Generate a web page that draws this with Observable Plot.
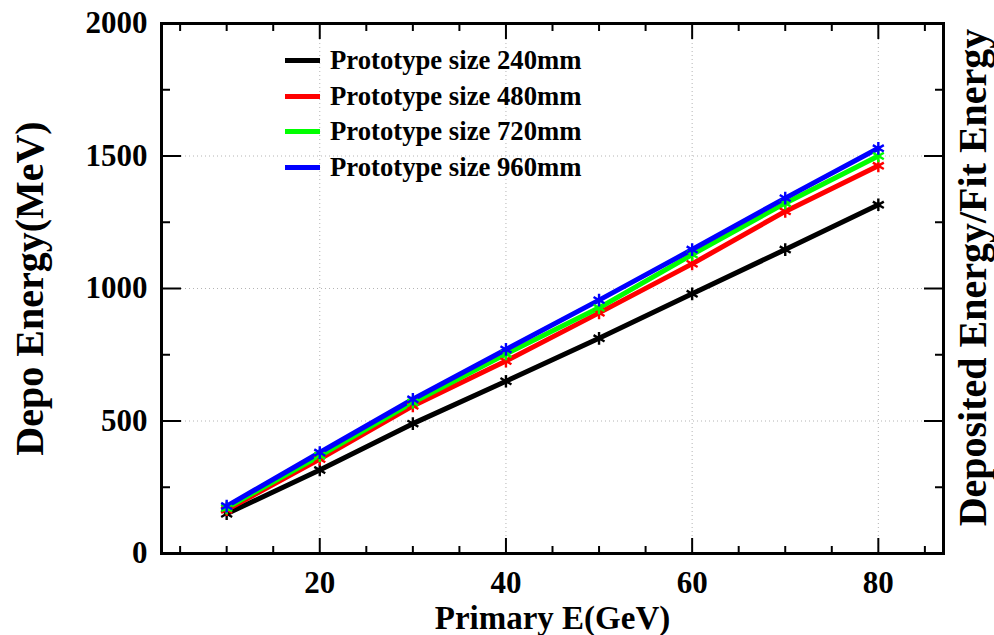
<!DOCTYPE html>
<html>
<head>
<meta charset="utf-8">
<script src="https://cdn.jsdelivr.net/npm/d3@7"></script>
<script src="https://cdn.jsdelivr.net/npm/@observablehq/plot@0.6"></script>
<style>
  html, body { margin: 0; padding: 0; background: #fff; }
  #wrap { position: relative; width: 994px; height: 635px; }
  #legend { position: absolute; left: 285px; top: 43px; font-family: "Liberation Serif", "DejaVu Serif", serif; font-weight: bold; font-size: 26.7px; color: #000; }
  .row { display: flex; align-items: center; height: 35.5px; }
  .sw { width: 35px; height: 5px; margin-right: 10px; }
</style>
</head>
<body>
<div id="wrap"><div id="legend"></div></div>
<script>
const energies = [10, 20, 30, 40, 50, 60, 70, 80];
const seriesNames = ["Prototype size 240mm", "Prototype size 480mm", "Prototype size 720mm", "Prototype size 960mm"];
const seriesColors = ["#000000", "#ff0000", "#00ff00", "#0000ff"];
const dep240 = [150, 315, 490, 650, 812, 980, 1147, 1316];
const dep480 = [165, 356, 557, 726, 908, 1093, 1291, 1463];
const dep720 = [172, 369, 570, 753, 927, 1128, 1322, 1500];
const dep960 = [179, 381, 582, 770, 956, 1147, 1341, 1529];
const xMajor = [20, 40, 60, 80];
const xMinor = [5, 10, 15, 25, 30, 35, 45, 50, 55, 65, 70, 75, 85];
const yMajor = [0, 500, 1000, 1500, 2000];
const yMinor = [250, 750, 1250, 1750];
const xTitle = "Primary E(GeV)";
const yTitle = "Depo Energy(MeV)";
const y2Title = "Deposited Energy/Fit Energy";

const allSeries = [dep240, dep480, dep720, dep960];
const data = [];
allSeries.forEach((vals, s) => vals.forEach((v, i) => data.push({series: seriesNames[s], e: energies[i], dep: v})));

const font = "Liberation Serif, DejaVu Serif, serif";
const tickCommon = {tickFormat: () => "", label: null, strokeWidth: 2};
const plain = d => String(d);

const chart = Plot.plot({
  width: 994,
  height: 635,
  marginLeft: 161,
  marginRight: 51,
  marginTop: 23,
  marginBottom: 82,
  style: {fontFamily: font, fontWeight: "bold", background: "white", overflow: "visible"},
  x: {domain: [3, 87]},
  y: {domain: [0, 2000]},
  color: {domain: seriesNames, range: seriesColors},
  marks: [
    Plot.gridX(xMajor, {stroke: "#b4b4b4", strokeOpacity: 1, strokeDasharray: "1,3", strokeWidth: 1}),
    Plot.gridY(yMajor.slice(1, -1), {stroke: "#b4b4b4", strokeOpacity: 1, strokeDasharray: "1,3", strokeWidth: 1}),
    Plot.axisX({ticks: xMajor, anchor: "bottom", tickSize: 15, dy: -15, ...tickCommon}),
    Plot.axisX({ticks: xMinor, anchor: "bottom", tickSize: 7, dy: -7, ...tickCommon}),
    Plot.axisX({ticks: xMajor, anchor: "top", tickSize: 15, dy: 15, ...tickCommon}),
    Plot.axisX({ticks: xMinor, anchor: "top", tickSize: 7, dy: 7, ...tickCommon}),
    Plot.axisY({ticks: yMajor, anchor: "left", tickSize: 20, dx: 20, ...tickCommon}),
    Plot.axisY({ticks: yMinor, anchor: "left", tickSize: 9, dx: 9, ...tickCommon}),
    Plot.axisY({ticks: yMajor, anchor: "right", tickSize: 20, dx: -20, ...tickCommon}),
    Plot.axisY({ticks: yMinor, anchor: "right", tickSize: 9, dx: -9, ...tickCommon}),
    Plot.axisX({ticks: xMajor, anchor: "bottom", tickSize: 0, tickPadding: 17, tickFormat: plain, fontSize: 31, fontWeight: "bold", fontFamily: font, label: null}),
    Plot.axisY({ticks: yMajor, anchor: "left", tickSize: 0, tickPadding: 14, tickFormat: plain, fontSize: 31, fontWeight: "bold", fontFamily: font, label: null}),
    Plot.line(data, {x: "e", y: "dep", stroke: "series", z: "series", strokeWidth: 5}),
    Plot.dot(data, {x: "e", y: "dep", stroke: "series", symbol: "asterisk", r: 6, strokeWidth: 2.4}),
    Plot.frame({stroke: "black", strokeWidth: 3}),
    Plot.text([xTitle], {frameAnchor: "bottom", dy: 75, fontSize: 33, fontWeight: "bold", fontFamily: font, lineAnchor: "bottom", textAnchor: "middle", fill: "black"}),
    Plot.text([yTitle], {frameAnchor: "left", dx: -119, rotate: -90, fontSize: 40, fontWeight: "bold", fontFamily: font, lineAnchor: "bottom", textAnchor: "middle", fill: "black"}),
    Plot.text([y2Title], {frameAnchor: "right", dx: 42, dy: -11, rotate: -90, fontSize: 40, fontWeight: "bold", fontFamily: font, lineAnchor: "bottom", textAnchor: "middle", fill: "black"})
  ]
});

document.getElementById("wrap").prepend(chart);
chart.style.position = "absolute";
chart.style.left = "0px";
chart.style.top = "0px";

const legend = document.getElementById("legend");
seriesNames.forEach((name, i) => {
  const row = document.createElement("div");
  row.className = "row";
  const sw = document.createElement("span");
  sw.className = "sw";
  sw.style.background = seriesColors[i];
  const t = document.createElement("span");
  t.textContent = name;
  row.appendChild(sw);
  row.appendChild(t);
  legend.appendChild(row);
});
</script>
</body>
</html>
